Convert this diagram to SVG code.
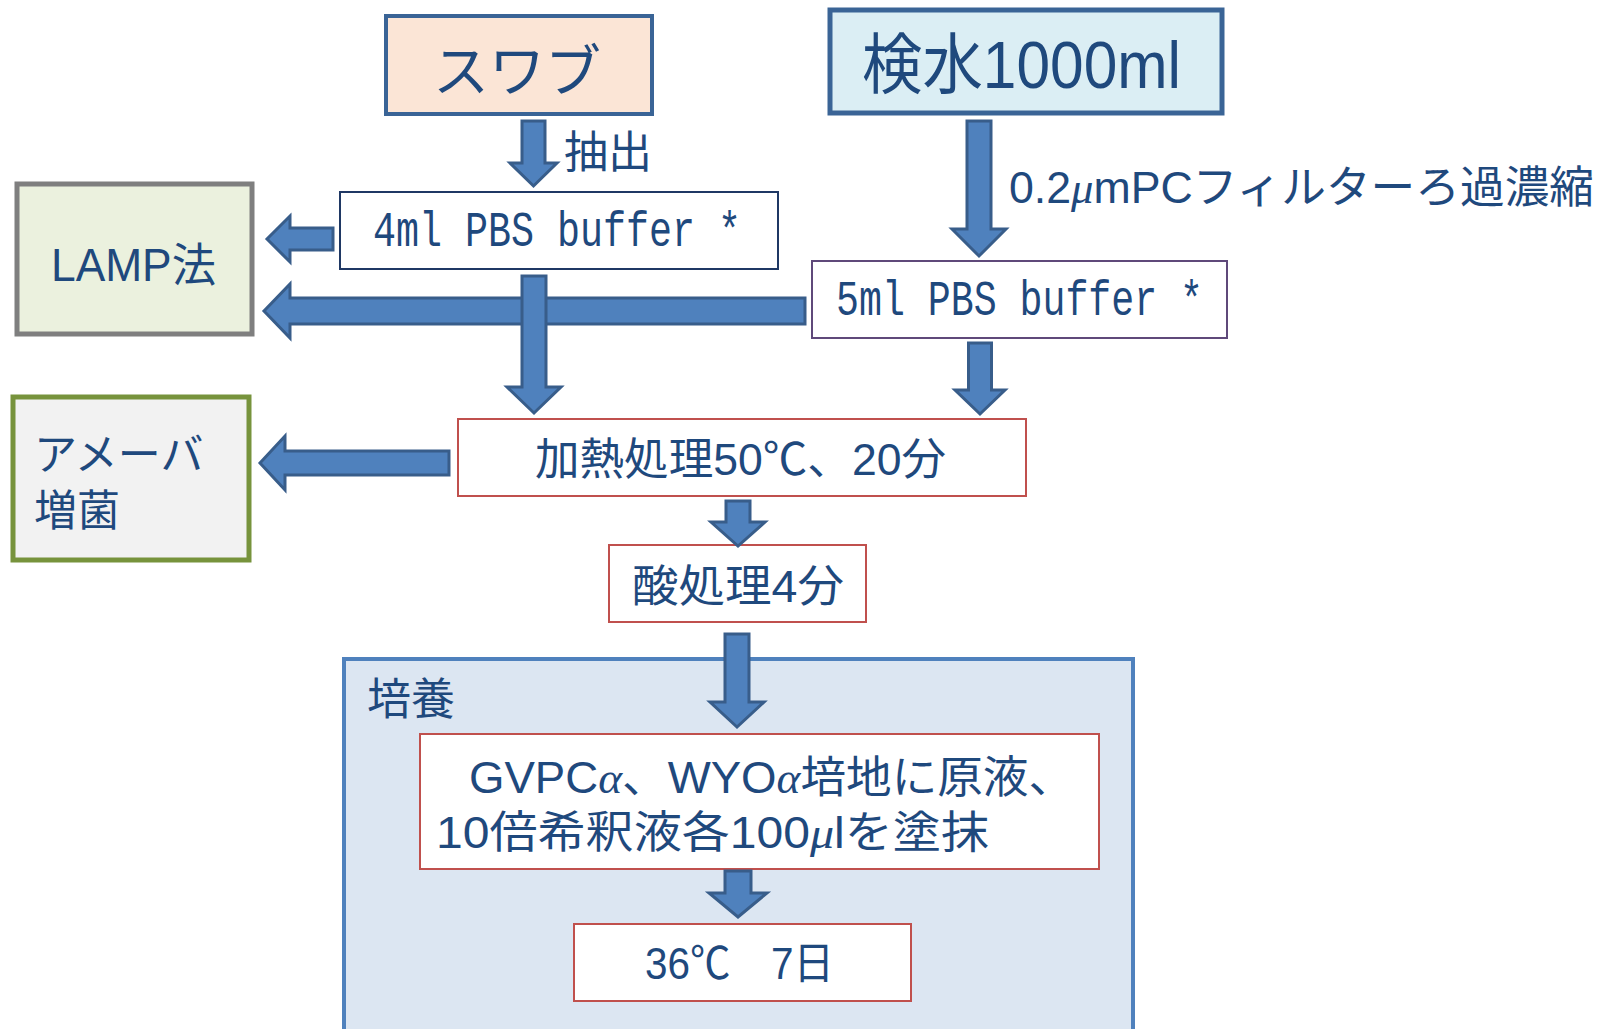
<svg xmlns="http://www.w3.org/2000/svg" width="1613" height="1029" viewBox="0 0 1613 1029">
<style>
.t{font-family:"Liberation Sans","Noto Sans CJK JP",sans-serif;fill:#1f497d;font-size:44px}
.m{font-family:"Liberation Mono","Noto Sans CJK JP",monospace;fill:#1f497d;font-size:50px}
.g{font-family:"Liberation Serif",serif;font-style:italic}
.arr{fill:#4f81bd;stroke:#385d8a;stroke-width:3;stroke-linejoin:miter}
.red{fill:#ffffff;stroke:#c0504d;stroke-width:2}
</style>
<rect width="1613" height="1029" fill="#ffffff"/>

<g id="culture">
<rect x="344" y="659" width="789" height="400" fill="#dce6f2" stroke="#4f81bd" stroke-width="4"/>
<text class="t" x="367" y="715">培養</text>
</g>

<g id="swab">
<rect x="386" y="16" width="266" height="98" fill="#fbe5d6" stroke="#3a6496" stroke-width="4"/>
<text class="t" x="517" y="91" text-anchor="middle" style="font-size:56px">スワブ</text>
</g>

<g id="water">
<rect x="830" y="10" width="392" height="103" fill="#dbeef4" stroke="#3a6496" stroke-width="5"/>
<text class="t" x="862" y="88" style="font-size:66px" textLength="319" lengthAdjust="spacingAndGlyphs">検水1000ml</text>
</g>

<g id="pbs4">
<rect x="340" y="192" width="438" height="77" fill="#ffffff" stroke="#1f3864" stroke-width="2"/>
<text class="m" x="373" y="246" textLength="368" lengthAdjust="spacingAndGlyphs">4ml PBS buffer *</text>
</g>

<g id="pbs5">
<rect x="812" y="261" width="415" height="77" fill="#ffffff" stroke="#5f497a" stroke-width="2"/>
<text class="m" x="836" y="315" textLength="367" lengthAdjust="spacingAndGlyphs">5ml PBS buffer *</text>
</g>

<g id="lamp">
<rect x="17" y="184" width="235" height="150" fill="#ebf1de" stroke="#7f7f7f" stroke-width="5"/>
<text class="t" x="51" y="281" style="font-size:46px" textLength="165" lengthAdjust="spacingAndGlyphs">LAMP法</text>
</g>

<g id="amoeba">
<rect x="13" y="397" width="236" height="163" fill="#f2f2f2" stroke="#77933c" stroke-width="5"/>
<text class="t" x="34" y="470" style="font-size:43px">アメーバ</text>
<text class="t" x="34" y="526" style="font-size:43px">増菌</text>
</g>

<g id="heat">
<rect x="458" y="419" width="568" height="77" class="red"/>
<text class="t" x="535" y="475" textLength="411" lengthAdjust="spacingAndGlyphs">加熱処理50℃、20分</text>
</g>

<g id="acid">
<rect x="609" y="545" width="257" height="77" class="red"/>
<text class="t" x="632" y="602" textLength="212" lengthAdjust="spacingAndGlyphs">酸処理4分</text>
</g>

<g id="plate">
<rect x="420" y="734" width="679" height="135" class="red"/>
<text class="t" x="469" y="793" textLength="605" lengthAdjust="spacingAndGlyphs">GVPC<tspan class="g">α</tspan>、WYO<tspan class="g">α</tspan>培地に原液、</text>
<text class="t" x="436" y="848" textLength="553" lengthAdjust="spacingAndGlyphs">10倍希釈液各100<tspan class="g">μ</tspan>lを塗抹</text>
</g>

<g id="incubate">
<rect x="574" y="924" width="337" height="77" class="red"/>
<text class="t" x="645" y="979" textLength="189" lengthAdjust="spacingAndGlyphs">36℃　7日</text>
</g>

<g id="connectors">
<path class="arr" d="M522,121 L545,121 L545,163 L557,163 L533.5,186 L510,163 L522,163 Z"/>
<text class="t" x="564" y="168">抽出</text>
<path class="arr" d="M967,121 L991,121 L991,229 L1006,229 L979,256 L952,229 L967,229 Z"/>
<text class="t" x="1009" y="203" textLength="585" lengthAdjust="spacingAndGlyphs">0.2<tspan class="g">μ</tspan>mPCフィルターろ過濃縮</text>
<path class="arr" d="M333,228 L290,228 L290,216 L267,239 L290,262 L290,250 L333,250 Z"/>
<path class="arr" d="M805,298 L290,298 L290,284 L264,311 L290,338 L290,324 L805,324 Z"/>
<path class="arr" d="M522,276 L546,276 L546,387 L561,387 L534,413 L507,387 L522,387 Z"/>
<path class="arr" d="M968.5,343 L991.5,343 L991.5,390 L1005,390 L980,414 L955,390 L968.5,390 Z"/>
<path class="arr" d="M449,451 L285,451 L285,436 L260,463 L285,490 L285,475 L449,475 Z"/>
<path class="arr" d="M726,501 L750,501 L750,522 L765,522 L738,546 L711,522 L726,522 Z"/>
<path class="arr" d="M725,634 L749,634 L749,702 L764,702 L737,727 L710,702 L725,702 Z"/>
<path class="arr" d="M725,871 L751,871 L751,893 L767,893 L738,917 L709,893 L725,893 Z"/>
</g>
</svg>
